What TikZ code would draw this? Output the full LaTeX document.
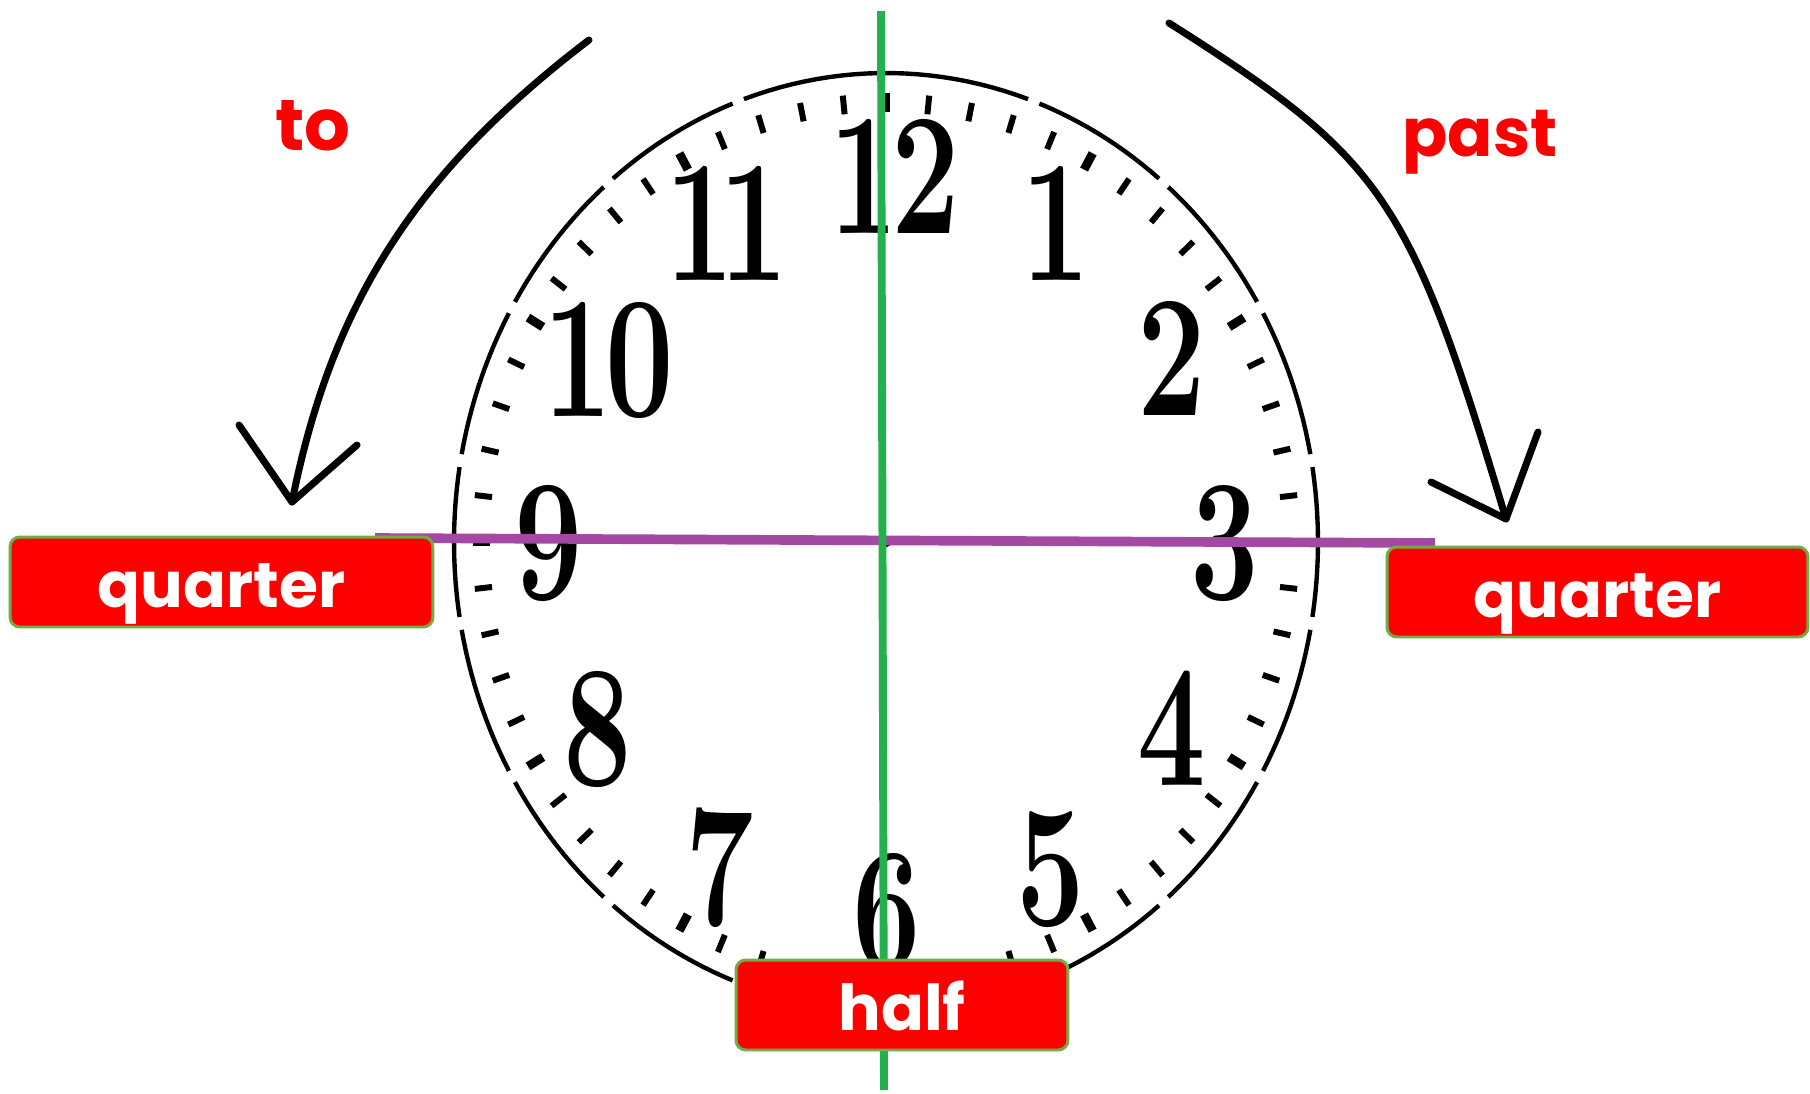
\documentclass[tikz,border=0pt]{standalone}
\usepackage{fontspec}
\usepackage{graphicx}
\newfontfamily\comic{Poppins}
\definecolor{gline}{RGB}{34,177,76}
\definecolor{pline}{RGB}{163,73,164}
\definecolor{bred}{RGB}{255,0,0}
\definecolor{bgreen}{RGB}{112,173,71}
\begin{document}
\begin{tikzpicture}[x=0.02cm,y=-0.02cm,
  rim/.style={line width=2.5pt},
  num/.style={inner sep=0pt, font=\fontsize{99}{99}\selectfont\bfseries},
  label box/.style={draw=bgreen, line width=1.7pt, fill=bred, rounded corners=5.5pt,
    text=white, font=\comic\bfseries\fontsize{36}{36}\selectfont, inner sep=0pt,
    text height=1cm, text depth=0pt},
  redword/.style={text=bred, inner sep=0pt, anchor=base},
  arrowline/.style={line width=4pt, line cap=round, line join=round}]
\useasboundingbox (0,0) rectangle (1810,1093);
\fill[white] (0,0) rectangle (1810,1093);
% rim with gaps
\foreach \k in {1,...,16}{
  \pgfmathsetmacro\ta{20*\k+0.8}
  \pgfmathsetmacro\tb{20*\k+19.2}
  \draw[rim] plot[domain=\ta:\tb, samples=14, variable=\t] ({886+432*sin(\t)},{542-469*cos(\t)});
}
\draw[rim] plot[domain=340.8:379.2, samples=24, variable=\t] ({886+432*sin(\t)},{542-469*cos(\t)});
% ticks
\foreach \i in {0,...,59}{
  \pgfmathsetmacro\a{6*\i}
  \pgfmathtruncatemacro\m{mod(\i,5)}
  \ifnum\m=0 \def\tw{5pt}\else\def\tw{3.4pt}\fi
  \draw[line width=\tw] ({886+0.957*432*sin(\a)},{542-0.957*469*cos(\a)}) -- ({886+0.917*432*sin(\a)},{542-0.917*469*cos(\a)});
}
% numbers
\node[num] (n12) at (895,176) {\scalebox{0.7}[1]{1\kern-0.05em2}};
\node[num] (n1) at (1056,223) {\scalebox{0.7}[1]{1}};
\node[num] (n2) at (1172,358) {\scalebox{0.7}[1]{2}};
\node[num] (n3) at (1225,543) {\scalebox{0.7}[1]{3}};
\node[num] (n4) at (1172,728) {\scalebox{0.7}[1]{4}};
\node[num] (n5) at (1051,869) {\scalebox{0.7}[1]{5}};
\node[num] (n6) at (887,911) {\scalebox{0.7}[1]{6}};
\node[num] (n7) at (720,868) {\scalebox{0.7}[1]{7}};
\node[num] (n8) at (598,729) {\scalebox{0.7}[1]{8}};
\node[num] (n9) at (549,543) {\scalebox{0.7}[1]{9}};
\node[num] (n10) at (609,360) {\scalebox{0.7}[1]{1\kern-0.05em0}};
\node[num] (n11) at (727,223) {\scalebox{0.7}[1]{1\kern-0.12em1}};
\node[circle, fill=black, inner sep=0pt, minimum size=6pt] (ctr) at (886,542) {};
% lines
\coordinate (pL) at (375,538);
\coordinate (pR) at (1435,543);
\draw[pline, line width=5.5pt] (pL) -- (pR);
\coordinate (gT) at (881,11);
\coordinate (gB) at (884,1090);
\draw[gline, line width=4.5pt] (gT) -- (gB);
% boxes
\node[label box, minimum width=8.46cm, minimum height=1.8cm] (qL) at (221.5,582) {quarter};
\node[label box, minimum width=8.42cm, minimum height=1.8cm] (qR) at (1597.5,592) {quarter};
\node[label box, minimum width=6.64cm, minimum height=1.8cm] (half) at (902,1005) {half};
% arrows
\coordinate (toS) at (589,40);
\coordinate (toE) at (292,502);
\draw[arrowline] (toS) .. controls (416,172) and (332,302) .. (toE);
\draw[arrowline] (239,425) -- (toE) -- (357,445);
\coordinate (paS) at (1169,23);
\coordinate (paE) at (1506,519);
\draw[arrowline] (paS) .. controls (1385,160) and (1410,198) .. (paE);
\draw[arrowline] (1431,482) -- (paE) -- (1538,432);
% words
\node[redword, font=\comic\bfseries\fontsize{41}{41}\selectfont] (to) at (313,150) {to};
\node[redword, font=\comic\bfseries\fontsize{38}{38}\selectfont] (past) at (1480,156) {past};
\end{tikzpicture}
\end{document}
